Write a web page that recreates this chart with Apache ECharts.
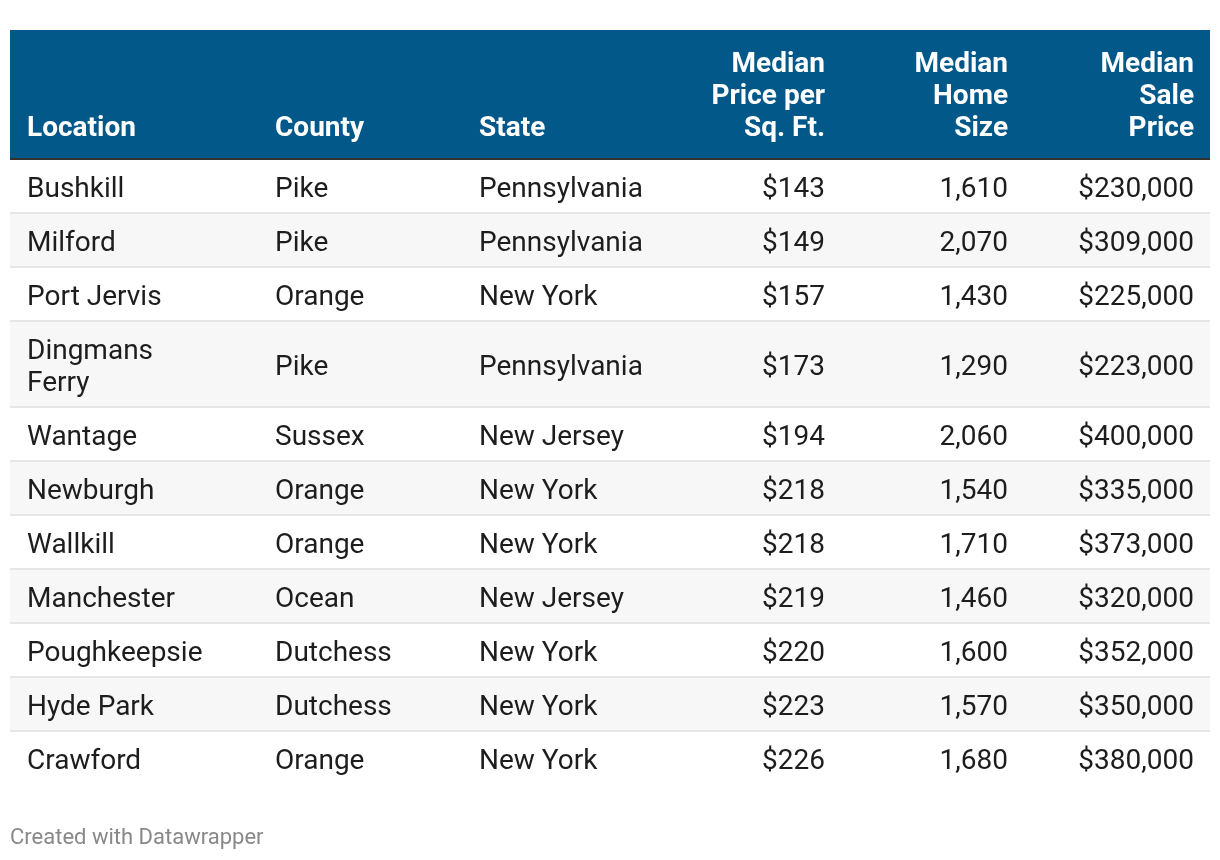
<!DOCTYPE html>
<html>
<head>
<meta charset="utf-8">
<script src="https://cdn.jsdelivr.net/npm/echarts@6/dist/echarts.min.js"></script>
<style>html,body{margin:0;padding:0;background:#fff}#c{width:1220px;height:860px}</style>
</head>
<body>
<div id="c"></div>
<script>
const headers = ['Location', 'County', 'State', 'Median\nPrice per\nSq. Ft.', 'Median\nHome\nSize', 'Median\nSale\nPrice'];
const locations = ['Bushkill', 'Milford', 'Port Jervis', 'Dingmans\nFerry', 'Wantage', 'Newburgh', 'Wallkill', 'Manchester', 'Poughkeepsie', 'Hyde Park', 'Crawford'];
const counties = ['Pike', 'Pike', 'Orange', 'Pike', 'Sussex', 'Orange', 'Orange', 'Ocean', 'Dutchess', 'Dutchess', 'Orange'];
const states = ['Pennsylvania', 'Pennsylvania', 'New York', 'Pennsylvania', 'New Jersey', 'New York', 'New York', 'New Jersey', 'New York', 'New York', 'New York'];
const pricePerSqFt = [143, 149, 157, 173, 194, 218, 218, 219, 220, 223, 226];
const homeSize = [1610, 2070, 1430, 1290, 2060, 1540, 1710, 1460, 1600, 1570, 1680];
const salePrice = [230000, 309000, 225000, 223000, 400000, 335000, 373000, 320000, 352000, 350000, 380000];

// layout (table units)
const colX = [17, 265, 469, 815, 998, 1184];
const colAlign = ['left', 'left', 'left', 'right', 'right', 'right'];
const headerH = 128, borderH = 2, lineH = 32, rowPad = 22;
const fmt = n => n.toLocaleString('en-US');
const cells = locations.map((loc, i) => [loc, counties[i], states[i], '$' + fmt(pricePerSqFt[i]), fmt(homeSize[i]), '$' + fmt(salePrice[i])]);
const rowLines = locations.map(l => l.split('\n').length);
const rowTop = [];
let acc = headerH + borderH;
rowLines.forEach((n, i) => { rowTop.push(acc); acc += rowPad + lineH * n; });
const totalH = acc;
const tableW = 1200;

const chart = echarts.init(document.getElementById('c'), null, {renderer: 'canvas'});
const font = 'Roboto, "Noto Sans", sans-serif';

chart.setOption({
  animation: false,
  grid: {left: 10, top: 30, width: tableW, height: totalH},
  xAxis: {type: 'value', min: 0, max: tableW, show: false},
  yAxis: {type: 'value', min: 0, max: totalH, inverse: true, show: false},
  graphic: [{
    type: 'text', left: 10, top: 827,
    style: {text: 'Created with Datawrapper', fill: '#888888', font: '22px ' + font}
  }],
  series: [
    {
      type: 'custom', clip: false, silent: true,
      data: [[0]],
      renderItem: function (params, api) {
        const tl = api.coord([0, 0]);
        const br = api.coord([tableW, headerH]);
        const children = [
          {type: 'rect', shape: {x: tl[0], y: tl[1], width: br[0] - tl[0], height: br[1] - tl[1]}, style: {fill: '#03588a'}},
          {type: 'rect', shape: {x: tl[0], y: br[1], width: br[0] - tl[0], height: api.coord([0, headerH + borderH])[1] - br[1]}, style: {fill: '#333333'}}
        ];
        headers.forEach((h, c) => {
          const p = api.coord([colX[c], headerH - 13]);
          children.push({type: 'text', x: p[0], y: p[1],
            style: {text: h, fill: '#ffffff', font: 'bold 28px ' + font, lineHeight: lineH, align: colAlign[c], verticalAlign: 'bottom'}});
        });
        return {type: 'group', children: children};
      }
    },
    {
      type: 'custom', clip: false, silent: true,
      data: locations.map((l, i) => [i]),
      renderItem: function (params, api) {
        const i = api.value(0);
        const top = rowTop[i];
        const bottom = top + rowPad + lineH * rowLines[i];
        const tl = api.coord([0, top]);
        const br = api.coord([tableW, bottom]);
        const children = [];
        if (i % 2 === 1) {
          children.push({type: 'rect', shape: {x: tl[0], y: tl[1], width: br[0] - tl[0], height: br[1] - tl[1]}, style: {fill: '#f7f7f7'}});
        }
        if (i < locations.length - 1) {
          children.push({type: 'rect', shape: {x: tl[0], y: br[1] - 2, width: br[0] - tl[0], height: 2}, style: {fill: '#e6e6e6'}});
        }
        cells[i].forEach((t, c) => {
          const p = api.coord([colX[c], (top + bottom) / 2 + 2.5]);
          children.push({type: 'text', x: p[0], y: p[1],
            style: {text: t, fill: '#1d1d1d', font: '28px ' + font, lineHeight: lineH, align: colAlign[c], verticalAlign: 'middle'}});
        });
        return {type: 'group', children: children};
      }
    }
  ]
});
</script>
</body>
</html>
